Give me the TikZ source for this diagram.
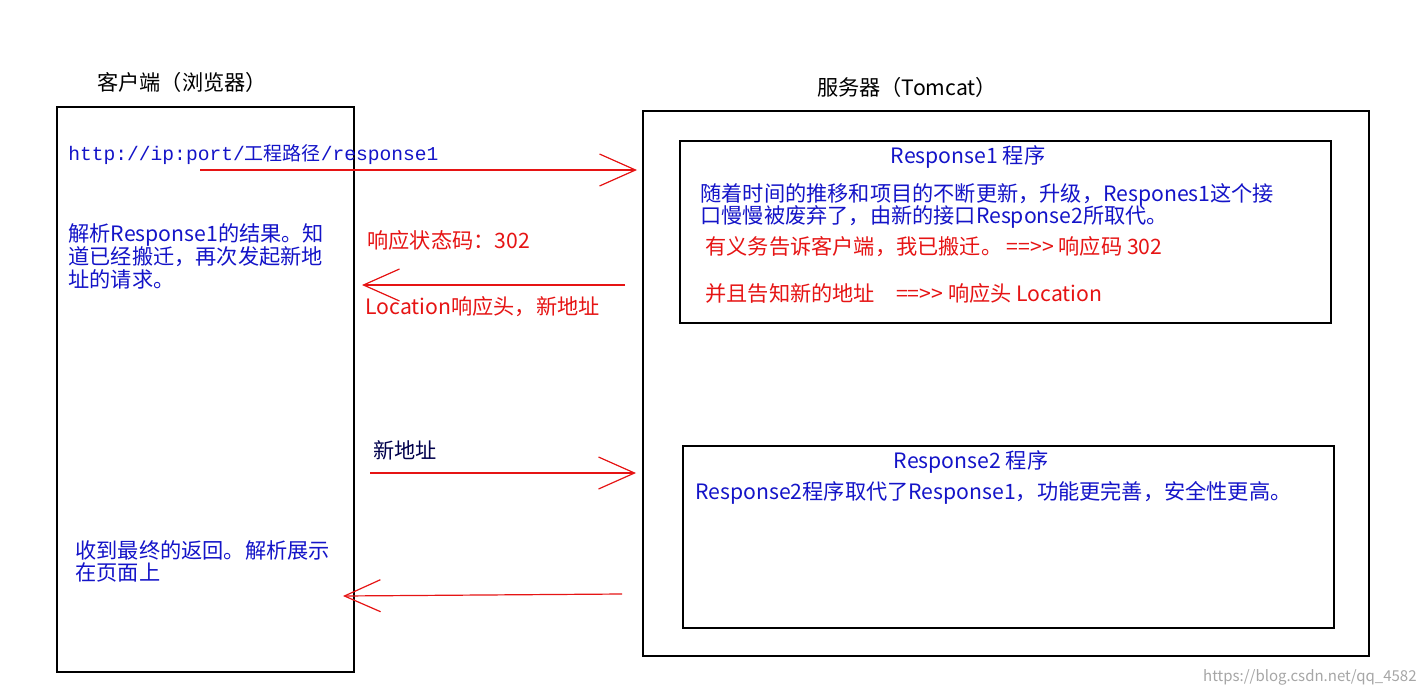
\documentclass[tikz,border=0pt]{standalone}
\usepackage{fontspec}
\setmainfont{Noto Sans CJK SC}
\newfontfamily\monof{Liberation Mono}
\usetikzlibrary{arrows.meta}
\definecolor{tblue}{RGB}{20,20,200}
\definecolor{tred}{RGB}{230,20,20}
\tikzset{
 box/.style={draw=black,line width=0.6pt},
 bt/.style={text=tblue,font=\fontsize{10.6}{11.5}\selectfont,anchor=west,align=left,inner sep=0},
 rt/.style={text=tred,font=\fontsize{10.6}{11.5}\selectfont,anchor=west,align=left,inner sep=0},
 kt/.style={text=black,font=\fontsize{10.6}{11}\selectfont,inner sep=0},
 arr/.style={draw=tred,line width=0.6pt,-{Straight Barb[length=18pt,width=16pt,line width=0.6pt]}},
}
\newcommand{\darr}{={}={}>{}>}
\begin{document}
\begin{tikzpicture}[x=0.5pt,y=-0.5pt]
\useasboundingbox[fill=white] (0,0) rectangle (1419,691);
\draw[box] (57,107) rectangle (354,672);
\draw[box] (643,111) rectangle (1369,656);
\draw[box] (680,141) rectangle (1331,323);
\draw[box] (683,446) rectangle (1334,628);
\node[kt] (t1) at (182,82) {客户端（浏览器）};
\node[kt] (t2) at (907,87) {服务器（Tomcat）};
\node[bt,font=\monof\fontsize{9.8}{11}\selectfont] (url) at (68,155) {http://ip:port/{\fontspec{Noto Sans CJK SC}\fontsize{9.5}{11}\selectfont 工程路径}/response1};
\node[bt] (l1) at (68,235) {解析Response1的结果。知};
\node[bt] (l2) at (68,257) {道已经搬迁，再次发起新地};
\node[bt] (l3) at (68,279) {址的请求。};
\node[bt] (l4) at (75,550) {收到最终的返回。解析展示};
\node[bt] (l5) at (75,572) {在页面上};
\node[rt] (r1) at (367,240) {响应状态码：302};
\node[rt] (r2) at (365,307) {Location响应头，新地址};
\node[bt,text=black!70!blue] (n1) at (373,450) {新地址};
\node[bt,anchor=center] (p1) at (968,157) {Response1 程序};
\node[bt] (p1a) at (700,195) {随着时间的推移和项目的不断更新，升级，Respones1这个接};
\node[bt] (p1b) at (700,217) {口慢慢被废弃了，由新的接口Response2所取代。};
\node[rt] (p1c) at (705,247) {有义务告诉客户端，我已搬迁。 \darr{} 响应码 302};
\node[rt] (p1d) at (705,293) {并且告知新的地址\quad \darr{} 响应头 Location};
\node[bt,anchor=center] (p2) at (971,462) {Response2 程序};
\node[bt] (p2a) at (695,493) {Response2程序取代了Response1，功能更完善，安全性更高。};
\node[text=black!35,font=\fontsize{7.5}{9}\selectfont,anchor=east,inner sep=0] (wm) at (1417,677) {https://blog.csdn.net/qq\_4582};
\coordinate (a1s) at (200,170); \coordinate (a1e) at (637,170);
\coordinate (a2s) at (625,285); \coordinate (a2e) at (362,285);
\coordinate (a3s) at (370,473); \coordinate (a3e) at (636,473);
\coordinate (a4s) at (622,594); \coordinate (a4e) at (343,596);
\draw[arr] (a1s) -- (a1e);
\draw[arr] (a2s) -- (a2e);
\draw[arr] (a3s) -- (a3e);
\draw[arr] (a4s) -- (a4e);
\end{tikzpicture}
\end{document}
